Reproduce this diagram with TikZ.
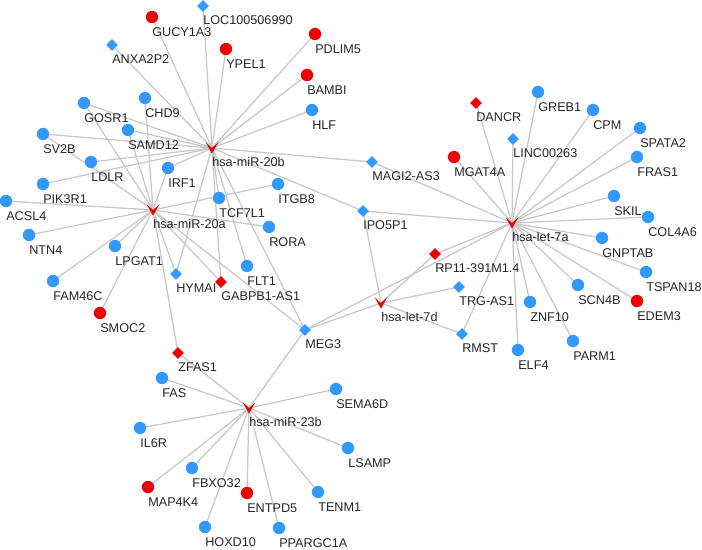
\documentclass[tikz,border=0pt]{standalone}
\usepackage{fontspec}
\setmainfont{Liberation Sans}
\usetikzlibrary{shapes.geometric,backgrounds}

\definecolor{upred}{RGB}{238,0,0}
\definecolor{downblue}{RGB}{51,153,255}
\definecolor{linkgray}{RGB}{200,200,200}

\begin{document}
\begin{tikzpicture}[
  x=0.025cm, y=-0.025cm,
  lbl/.style={anchor=base west, inner sep=0pt, label distance=9pt, font=\fontsize{9}{10}\selectfont, text=black!85},
  upgene/.style={circle, fill=upred, minimum size=8.8pt, inner sep=0pt, label={[lbl]south:#1}},
  downgene/.style={circle, fill=downblue, minimum size=8.8pt, inner sep=0pt, label={[lbl]south:#1}},
  uplnc/.style={diamond, fill=upred, minimum size=8.6pt, inner sep=0pt, label={[lbl]south:#1}},
  downlnc/.style={diamond, fill=downblue, minimum size=8.6pt, inner sep=0pt, label={[lbl]south:#1}},
  mirna/.style={rectangle, minimum width=9pt, minimum height=8pt, inner sep=0pt,
    path picture={\fill[upred] (path picture bounding box.north west) -- (path picture bounding box.center)
      -- (path picture bounding box.north east) -- (path picture bounding box.south) -- cycle;},
    label={[lbl]south:#1}},
  link/.style={draw=linkgray, line width=0.9pt}
]
\useasboundingbox (0,0) rectangle (702,550);

% miRNA hubs
\node[mirna=hsa-miR-20b] (m20b) at (212,148) {};
\node[mirna=hsa-miR-20a] (m20a) at (153,210) {};
\node[mirna=hsa-let-7a] (let7a) at (512,223) {};
\node[mirna=hsa-let-7d] (let7d) at (381,303) {};
\node[mirna=hsa-miR-23b] (m23b) at (249,408) {};

% lncRNAs
\node[downlnc=LOC100506990] (loc) at (203,6) {};
\node[downlnc=ANXA2P2] (anxa2p2) at (112,45) {};
\node[downlnc=HYMAI] (hymai) at (176,274) {};
\node[uplnc=GABPB1-AS1] (gabpb1) at (221,282) {};
\node[uplnc=ZFAS1] (zfas1) at (178,353) {};
\node[downlnc=MEG3] (meg3) at (305,330) {};
\node[downlnc=IPO5P1] (ipo5p1) at (363,211) {};
\node[downlnc=MAGI2-AS3] (magi2) at (372,162) {};
\node[uplnc=DANCR] (dancr) at (476,103) {};
\node[downlnc=LINC00263] (linc) at (513,139) {};
\node[uplnc=RP11-391M1.4] (rp11) at (435,254) {};
\node[downlnc=TRG-AS1] (trgas1) at (459,287) {};
\node[downlnc=RMST] (rmst) at (462,334) {};

% mRNAs around miR-20b / miR-20a
\node[upgene=GUCY1A3] (gucy1a3) at (152,17) {};
\node[upgene=YPEL1] (ypel1) at (226,49) {};
\node[upgene=PDLIM5] (pdlim5) at (315,34) {};
\node[upgene=BAMBI] (bambi) at (307,75) {};
\node[downgene=HLF] (hlf) at (312,110) {};
\node[downgene=CHD9] (chd9) at (145,98) {};
\node[downgene=GOSR1] (gosr1) at (84,103) {};
\node[downgene=SAMD12] (samd12) at (128,130) {};
\node[downgene=SV2B] (sv2b) at (43,134) {};
\node[downgene=LDLR] (ldlr) at (91,162) {};
\node[downgene=IRF1] (irf1) at (168,168) {};
\node[downgene=PIK3R1] (pik3r1) at (43,184) {};
\node[downgene=ACSL4] (acsl4) at (6,201) {};
\node[downgene=ITGB8] (itgb8) at (278,184) {};
\node[downgene=TCF7L1] (tcf7l1) at (219,198) {};
\node[downgene=RORA] (rora) at (269,227) {};
\node[downgene=NTN4] (ntn4) at (29,235) {};
\node[downgene=LPGAT1] (lpgat1) at (115,246) {};
\node[downgene=FLT1] (flt1) at (247,266) {};
\node[downgene=FAM46C] (fam46c) at (53,281) {};
\node[upgene=SMOC2] (smoc2) at (100,313) {};

% mRNAs around let-7a
\node[upgene=MGAT4A] (mgat4a) at (454,157) {};
\node[downgene=GREB1] (greb1) at (538,92) {};
\node[downgene=CPM] (cpm) at (593,110) {};
\node[downgene=SPATA2] (spata2) at (640,128) {};
\node[downgene=FRAS1] (fras1) at (637,157) {};
\node[downgene=SKIL] (skil) at (614,196) {};
\node[downgene=COL4A6] (col4a6) at (648,217) {};
\node[downgene=GNPTAB] (gnptab) at (602,238) {};
\node[downgene=TSPAN18] (tspan18) at (646,272) {};
\node[upgene=EDEM3] (edem3) at (637,301) {};
\node[downgene=SCN4B] (scn4b) at (578,285) {};
\node[downgene=ZNF10] (znf10) at (530,302) {};
\node[downgene=PARM1] (parm1) at (573,341) {};
\node[downgene=ELF4] (elf4) at (518,350) {};

% mRNAs around miR-23b
\node[downgene=FAS] (fas) at (162,378) {};
\node[downgene=SEMA6D] (sema6d) at (336,389) {};
\node[downgene=IL6R] (il6r) at (140,428) {};
\node[downgene=LSAMP] (lsamp) at (348,448) {};
\node[downgene=FBXO32] (fbxo32) at (192,468) {};
\node[upgene=MAP4K4] (map4k4) at (148,487) {};
\node[upgene=ENTPD5] (entpd5) at (247,493) {};
\node[downgene=TENM1] (tenm1) at (318,492) {};
\node[downgene=HOXD10] (hoxd10) at (205,527) {};
\node[downgene=PPARGC1A] (ppargc1a) at (279,528) {};

% interactions
\begin{scope}[on background layer]
\foreach \t in {gucy1a3,loc,anxa2p2,ypel1,pdlim5,bambi,hlf,gosr1,samd12,sv2b,ldlr,pik3r1,irf1,tcf7l1,flt1,hymai,gabpb1,meg3,magi2,ipo5p1}
  \draw[link] (m20b.center) -- (\t.center);
\foreach \t in {chd9,gosr1,samd12,sv2b,irf1,acsl4,ntn4,lpgat1,fam46c,smoc2,itgb8,rora,hymai,gabpb1,meg3,zfas1}
  \draw[link] (m20a.center) -- (\t.center);
\foreach \t in {dancr,linc,greb1,cpm,spata2,fras1,skil,col4a6,gnptab,tspan18,edem3,scn4b,znf10,parm1,elf4,rmst,rp11,mgat4a,magi2,ipo5p1,meg3}
  \draw[link] (let7a.center) -- (\t.center);
\foreach \t in {ipo5p1,rp11,trgas1,rmst,meg3}
  \draw[link] (let7d.center) -- (\t.center);
\foreach \t in {zfas1,fas,sema6d,il6r,lsamp,fbxo32,map4k4,entpd5,tenm1,hoxd10,ppargc1a,meg3}
  \draw[link] (m23b.center) -- (\t.center);
\end{scope}

\end{tikzpicture}
\end{document}
